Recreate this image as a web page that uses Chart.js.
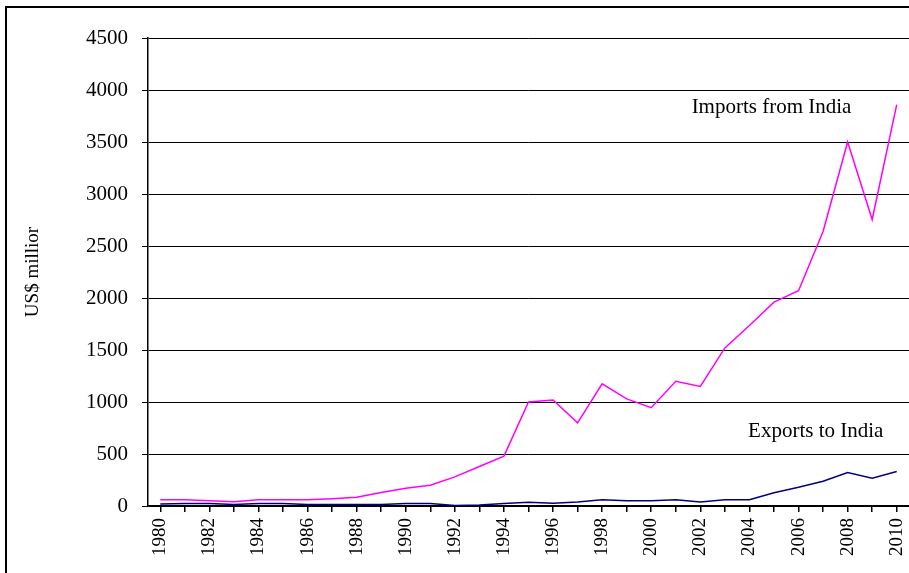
<!DOCTYPE html>
<html lang="en">
<head>
  <meta charset="UTF-8">
  <title>Trade with India</title>
  <script src="https://cdn.jsdelivr.net/npm/chart.js"></script>
  <style>
    body {
      margin: 0;
      background: #fff;
      overflow: hidden;
    }
    .frame {
      position: absolute;
      left: 5px;
      top: 6px;
      width: 1000px;
      height: 700px;
      border: 2px solid #000;
    }
    .chart-box {
      position: absolute;
      left: 0;
      top: 0;
      width: 909px;
      height: 573px;
    }
  </style>
</head>
<body>

<div class="frame"></div>
<div class="chart-box"><canvas id="chart"></canvas></div>

<script>
  const years = ['1980', '1981', '1982', '1983', '1984', '1985', '1986', '1987', '1988', '1989',
                 '1990', '1991', '1992', '1993', '1994', '1995', '1996', '1997', '1998', '1999',
                 '2000', '2001', '2002', '2003', '2004', '2005', '2006', '2007', '2008', '2009', '2010'];
  const importsFromIndia = [60, 60, 50, 40, 60, 60, 60, 70, 85, 130,
                            170, 200, 280, 380, 480, 1000, 1020, 800, 1175, 1030,
                            945, 1200, 1150, 1520, 1735, 1960, 2070, 2640, 3500, 2755, 3860];
  const exportsToIndia = [20, 25, 25, 15, 25, 25, 15, 15, 15, 15,
                          25, 25, 5, 10, 25, 36, 26, 38, 61, 51,
                          51, 61, 38, 61, 61, 128, 180, 238, 321, 267, 331];
  const yTicks = [0, 500, 1000, 1500, 2000, 2500, 3000, 3500, 4000, 4500];

  // series captions written inside the plot
  const captions = [
    { text: 'Imports from India', year: 2004.9, value: 3830 },
    { text: 'Exports to India', year: 2006.7, value: 720 }
  ];

  const serif = "'Liberation Serif', 'Times New Roman', serif";
  Chart.defaults.font.family = serif;
  Chart.defaults.color = '#000';

  const captionPlugin = {
    id: 'captions',
    afterDatasetsDraw(chart) {
      const { ctx, scales: { x, y } } = chart;
      ctx.save();
      ctx.font = '21px ' + serif;
      ctx.fillStyle = '#000';
      ctx.textAlign = 'center';
      ctx.textBaseline = 'middle';
      captions.forEach(c => {
        const i = c.year - 1980;
        const px = x.getPixelForValue(0) + i * (x.getPixelForValue(1) - x.getPixelForValue(0));
        ctx.fillText(c.text, px, y.getPixelForValue(c.value));
      });
      ctx.restore();
    }
  };

  new Chart(document.getElementById('chart'), {
    type: 'line',
    data: {
      labels: years,
      datasets: [{
        label: 'Imports from India',
        data: importsFromIndia,
        borderColor: '#ff00ff',
        borderWidth: 1.5,
        pointRadius: 0,
        tension: 0
      }, {
        label: 'Exports to India',
        data: exportsToIndia,
        borderColor: '#000080',
        borderWidth: 1.5,
        pointRadius: 0,
        tension: 0
      }]
    },
    options: {
      responsive: true,
      maintainAspectRatio: false,
      animation: false,
      layout: { padding: { left: 0, right: 0, top: 38, bottom: 0 } },
      plugins: {
        legend: { display: false },
        tooltip: { enabled: false }
      },
      scales: {
        x: {
          offset: true,
          afterFit: s => { s.height = 67; s.paddingLeft = 0; s.paddingRight = 0; },
          border: { color: '#000', width: 1.5 },
          grid: { drawOnChartArea: false, drawTicks: true, tickLength: 6, color: '#000', lineWidth: 1.5 },
          ticks: {
            autoSkip: false,
            minRotation: 90,
            maxRotation: 90,
            padding: 6,
            font: { size: 19 },
            callback: function(v, i) { return i % 2 === 0 ? this.getLabelForValue(v) : ''; }
          }
        },
        y: {
          min: 0,
          max: 4500,
          afterFit: s => { s.width = 148; },
          afterBuildTicks: s => { s.ticks = yTicks.map(v => ({ value: v })); },
          border: { color: '#000', width: 1.5 },
          grid: { color: '#000', lineWidth: 1, tickLength: 6 },
          ticks: { padding: 14, font: { size: 21 }, callback: v => String(v) },
          title: {
            display: true,
            text: 'US$ millior',
            font: { size: 19 },
            padding: { top: 22, bottom: 0 }
          }
        }
      }
    },
    plugins: [captionPlugin]
  });
</script>

</body>
</html>
